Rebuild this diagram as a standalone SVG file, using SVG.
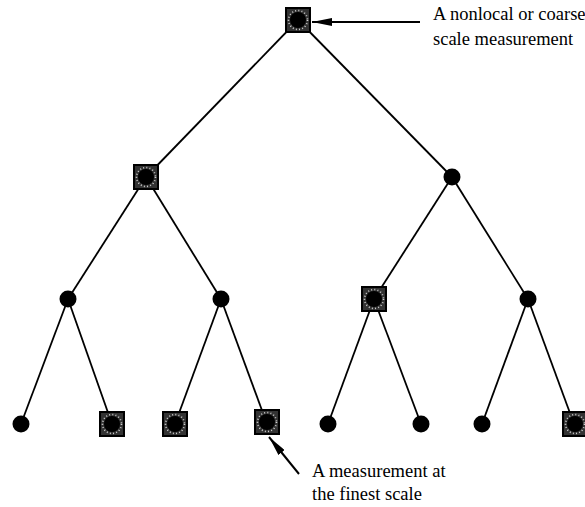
<svg xmlns="http://www.w3.org/2000/svg" width="585" height="507" viewBox="0 0 585 507">
<defs>
<style>
.edge{stroke:#000;stroke-width:1.8;fill:none}
.dot{fill:#000}
.sq{fill:#333;stroke:#000;stroke-width:2}
.ring{fill:none;stroke:#cfcfcf;stroke-width:1.6;stroke-dasharray:1 2.2}
.lbl{font-family:"Liberation Serif","Times New Roman",serif;font-size:18.5px;fill:#000}
.ptr{stroke:#000;stroke-width:2;fill:none}
</style>
<marker id="ah" viewBox="0 0 20 8" refX="20" refY="4" markerWidth="20" markerHeight="8" markerUnits="userSpaceOnUse" orient="auto">
<path d="M0,0 L20,4 L0,8 Z" fill="#000"/>
</marker>
</defs>
<rect width="585" height="507" fill="#fff"/>
<g id="connectors">
<line class="edge" x1="298" y1="20" x2="146" y2="177"/>
<line class="edge" x1="298" y1="20" x2="452" y2="177"/>
<line class="edge" x1="146" y1="177" x2="68" y2="299"/>
<line class="edge" x1="146" y1="177" x2="221" y2="299"/>
<line class="edge" x1="452" y1="177" x2="374" y2="299"/>
<line class="edge" x1="452" y1="177" x2="528" y2="299"/>
<line class="edge" x1="68" y1="299" x2="21" y2="424"/>
<line class="edge" x1="68" y1="299" x2="112" y2="424"/>
<line class="edge" x1="221" y1="299" x2="175" y2="424"/>
<line class="edge" x1="221" y1="299" x2="267" y2="424"/>
<line class="edge" x1="374" y1="299" x2="328" y2="424"/>
<line class="edge" x1="374" y1="299" x2="421" y2="424"/>
<line class="edge" x1="528" y1="299" x2="482" y2="424"/>
<line class="edge" x1="528" y1="299" x2="574" y2="424"/>
<line class="ptr" x1="420" y1="22" x2="312" y2="22" marker-end="url(#ah)"/>
<line class="ptr" x1="299" y1="474" x2="269" y2="437" marker-end="url(#ah)"/>
</g>
<g id="root"><rect class="sq" x="286" y="8" width="24" height="24"/><circle class="ring" cx="298" cy="20" r="9.5"/><circle class="dot" cx="298" cy="20" r="8"/></g>
<g id="n1L"><rect class="sq" x="134" y="165" width="24" height="24"/><circle class="ring" cx="146" cy="177" r="9.5"/><circle class="dot" cx="146" cy="177" r="8"/></g>
<g id="n1R"><circle class="dot" cx="452" cy="177" r="8.5"/></g>
<g id="n2a"><circle class="dot" cx="68" cy="299" r="8.5"/></g>
<g id="n2b"><circle class="dot" cx="221" cy="299" r="8.5"/></g>
<g id="n2c"><rect class="sq" x="362" y="287" width="24" height="24"/><circle class="ring" cx="374" cy="299" r="9.5"/><circle class="dot" cx="374" cy="299" r="8"/></g>
<g id="n2d"><circle class="dot" cx="528" cy="299" r="8.5"/></g>
<g id="n3a"><circle class="dot" cx="21" cy="424" r="8.5"/></g>
<g id="n3b"><rect class="sq" x="100" y="412" width="24" height="24"/><circle class="ring" cx="112" cy="424" r="9.5"/><circle class="dot" cx="112" cy="424" r="8"/></g>
<g id="n3c"><rect class="sq" x="163" y="412" width="24" height="24"/><circle class="ring" cx="175" cy="424" r="9.5"/><circle class="dot" cx="175" cy="424" r="8"/></g>
<g id="n3d"><rect class="sq" x="255" y="410" width="24" height="24"/><circle class="ring" cx="267" cy="422" r="9.5"/><circle class="dot" cx="267" cy="422" r="8"/></g>
<g id="n3e"><circle class="dot" cx="328" cy="424" r="8.5"/></g>
<g id="n3f"><circle class="dot" cx="421" cy="424" r="8.5"/></g>
<g id="n3g"><circle class="dot" cx="482" cy="424" r="8.5"/></g>
<g id="n3h"><rect class="sq" x="563" y="412" width="24" height="24"/><circle class="ring" cx="575" cy="424" r="9.5"/><circle class="dot" cx="575" cy="424" r="8"/></g>
<g id="labels">
<text class="lbl" x="433" y="20">A nonlocal or coarse</text>
<text class="lbl" x="433" y="45">scale measurement</text>
<text class="lbl" x="312" y="477">A measurement at</text>
<text class="lbl" x="312" y="500">the finest scale</text>
</g>
</svg>
